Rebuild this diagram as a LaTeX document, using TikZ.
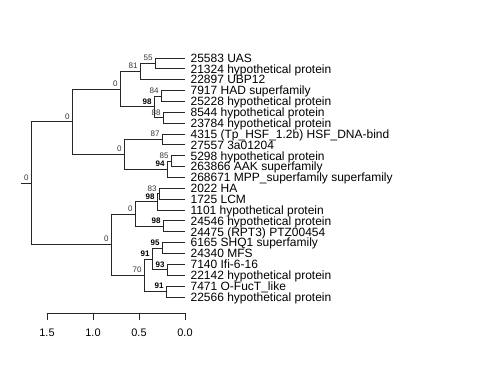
\documentclass[tikz,border=0pt]{standalone}
\usepackage{fontspec}
\setmainfont{Liberation Sans}
\usetikzlibrary{positioning}

\begin{document}
\begin{tikzpicture}[x=0.75pt,y=-8.1477pt,
    branch/.style={draw=black!85,line width=0.7pt},
    tiplabel/.style={anchor=base west,inner sep=0pt,xshift=4pt,yshift=-3.2pt,font=\fontsize{9}{9}\selectfont},
    supp/.style={anchor=south east,inner sep=0pt,xshift=-1.6pt,yshift=1.8pt,text=black!80,font=\fontsize{6}{6}\selectfont},
    suppbold/.style={supp,text=black,font=\fontsize{6}{6}\selectfont\bfseries},
    ticklabel/.style={inner sep=0pt,font=\fontsize{8.2}{8.2}\selectfont}]
\useasboundingbox (0,-5.339) rectangle (480,30.008);

% tips and their labels
\foreach \lab [count=\i from 0] in {25583 UAS,21324 hypothetical protein,22897 UBP12,
    7917 HAD superfamily,25228 hypothetical protein,8544 hypothetical protein,
    23784 hypothetical protein,4315 (Tp\_HSF\_1.2b) HSF\_DNA-bind,27557 3a01204,
    5298 hypothetical protein,263866 AAK superfamily,268671 MPP\_superfamily superfamily,
    2022 HA,1725 LCM,1101 hypothetical protein,24546 hypothetical protein,
    24475 (RPT3) PTZ00454,6165 SHQ1 superfamily,24340 MFS,7140 Ifi-6-16,
    22142 hypothetical protein,7471 O-FucT\_like,22566 hypothetical protein}{
  \coordinate (t\i) at (185,\i);
  \node[tiplabel] (l\i) at (t\i) {\lab};
}

% inner nodes
\coordinate (stem) at (21,11.531);
\coordinate (root) at (31,11.531);
\coordinate (ntop) at (72,5.875);
\coordinate (nA)   at (120,2.875);
\coordinate (n81)  at (140,1.25);
\coordinate (n55)  at (155,0.5);
\coordinate (n98)  at (154,4.5);
\coordinate (n84)  at (161,3.5);
\coordinate (n88)  at (163,5.5);
\coordinate (nB)   at (124,8.875);
\coordinate (n87)  at (162,7.5);
\coordinate (n94)  at (167,10.25);
\coordinate (n85)  at (171,9.5);
\coordinate (nbot) at (111,17.188);
\coordinate (nC)   at (135,14.375);
\coordinate (n98a) at (157,13.25);
\coordinate (n83)  at (159,12.5);
\coordinate (n98b) at (163,15.5);
\coordinate (n70)  at (144,20);
\coordinate (n91a) at (152,18.5);
\coordinate (n95)  at (162,17.5);
\coordinate (n93)  at (167,19.5);
\coordinate (n91b) at (166,21.5);

% branches
\draw[branch] (stem) -- (root);
\draw[branch] (root) |- (ntop);
\draw[branch] (root) |- (nbot);
\draw[branch] (ntop) |- (nA);
\draw[branch] (ntop) |- (nB);
\draw[branch] (nA) |- (n81);
\draw[branch] (nA) |- (n98);
\draw[branch] (n81) |- (n55);
\draw[branch] (n81) |- (t2);
\draw[branch] (n55) |- (t0);
\draw[branch] (n55) |- (t1);
\draw[branch] (n98) |- (n84);
\draw[branch] (n98) |- (n88);
\draw[branch] (n84) |- (t3);
\draw[branch] (n84) |- (t4);
\draw[branch] (n88) |- (t5);
\draw[branch] (n88) |- (t6);
\draw[branch] (nB) |- (n87);
\draw[branch] (nB) |- (n94);
\draw[branch] (n87) |- (t7);
\draw[branch] (n87) |- (t8);
\draw[branch] (n94) |- (n85);
\draw[branch] (n94) |- (t11);
\draw[branch] (n85) |- (t9);
\draw[branch] (n85) |- (t10);
\draw[branch] (nbot) |- (nC);
\draw[branch] (nbot) |- (n70);
\draw[branch] (nC) |- (n98a);
\draw[branch] (nC) |- (n98b);
\draw[branch] (n98a) |- (n83);
\draw[branch] (n98a) |- (t14);
\draw[branch] (n83) |- (t12);
\draw[branch] (n83) |- (t13);
\draw[branch] (n98b) |- (t15);
\draw[branch] (n98b) |- (t16);
\draw[branch] (n70) |- (n91a);
\draw[branch] (n70) |- (n91b);
\draw[branch] (n91a) |- (n95);
\draw[branch] (n91a) |- (n93);
\draw[branch] (n95) |- (t17);
\draw[branch] (n95) |- (t18);
\draw[branch] (n93) |- (t19);
\draw[branch] (n93) |- (t20);
\draw[branch] (n91b) |- (t21);
\draw[branch] (n91b) |- (t22);

% support values
\node[supp] (s-root) at (root) {0};
\node[supp] (s-top)  at (ntop) {0};
\node[supp] (s-A)    at (nA)   {0};
\node[supp] (s-81)   at (n81)  {81};
\node[supp] (s-55)   at (n55)  {55};
\node[suppbold] (s-98) at (n98) {98};
\node[supp] (s-84)   at (n84)  {84};
\node[supp] (s-88)   at (n88)  {88};
\node[supp] (s-B)    at (nB)   {0};
\node[supp] (s-87)   at (n87)  {87};
\node[suppbold] (s-94) at (n94) {94};
\node[supp] (s-85)   at (n85)  {85};
\node[supp] (s-bot)  at (nbot) {0};
\node[supp] (s-C)    at (nC)   {0};
\node[suppbold] (s-98a) at (n98a) {98};
\node[supp] (s-83)   at (n83)  {83};
\node[suppbold] (s-98b) at (n98b) {98};
\node[supp] (s-70)   at (n70)  {70};
\node[suppbold] (s-91a) at (n91a) {91};
\node[suppbold] (s-95) at (n95) {95};
\node[suppbold] (s-93) at (n93) {93};
\node[suppbold] (s-91b) at (n91b) {91};

% scale axis
\coordinate (a0) at (47,23.47);
\coordinate (a1) at (185,23.47);
\draw[branch] (a0) -- (a1);
\foreach \v/\x in {1.5/47,1.0/93,0.5/139,0.0/185}{
  \coordinate (k\x) at (\x,23.47);
  \coordinate (kk\x) at (\x,24.1);
  \draw[branch] (k\x) -- (kk\x);
  \node[ticklabel] (v\x) at (\x,25.31) {\v};
}
\end{tikzpicture}
\end{document}
